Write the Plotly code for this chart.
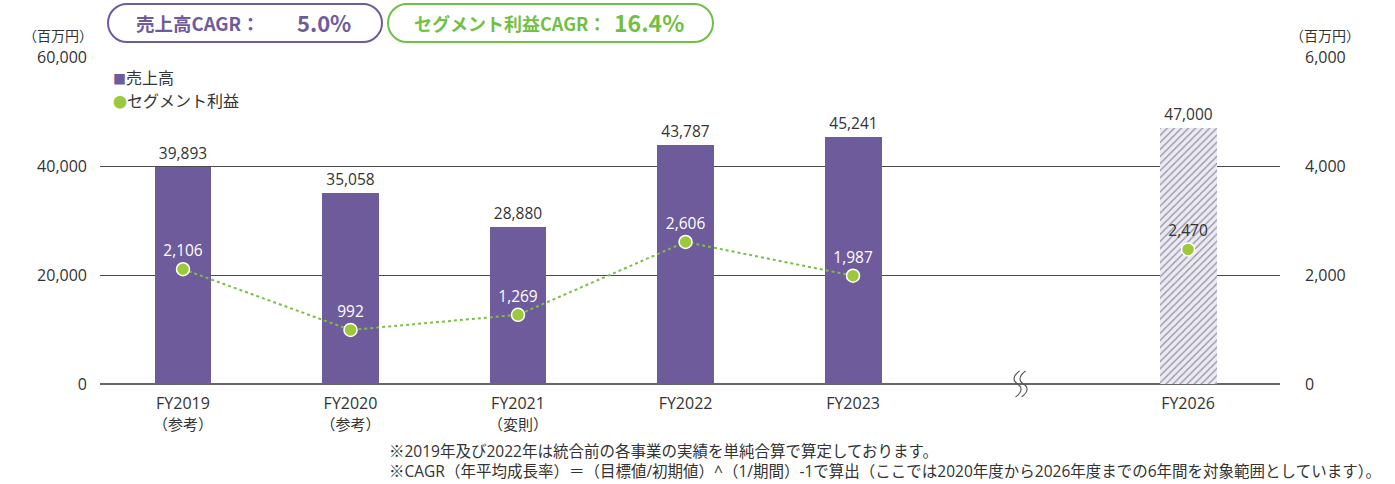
import plotly.graph_objects as go

# ---- data ----
years = ["FY2019", "FY2020", "FY2021", "FY2022", "FY2023", "", "FY2026"]
year_notes = ["（参考）", "（参考）", "（変則）", "", "", "", ""]
sales = [39893, 35058, 28880, 43787, 45241, None, 47000]
profit = [2106, 992, 1269, 2606, 1987, None, 2470]
sales_ticks = [0, 20000, 40000, 60000]
profit_ticks = [0, 2000, 4000, 6000]
footnotes = [
    "※2019年及び2022年は統合前の各事業の実績を単純合算で算定しております。",
    "※CAGR（年平均成長率）＝（目標値/初期値）^（1/期間）-1で算出（ここでは2020年度から2026年度までの6年間を対象範囲としています）。",
]
cagr_sales = "5.0%"
cagr_profit = "16.4%"

PURPLE = "#6E5B9C"
GREEN_M = "#9CC93B"
GREEN_L = "#7DBE48"
GREEN_T = "#72BF44"
TXT = "#333333"
FONT = "Noto Sans CJK JP"
NUMFONT = "Open Sans, Noto Sans CJK JP"

W, H = 1395, 484
L, R, T, B = 100, 1280, 57, 384

xs = list(range(len(years)))
forecast_idx = 6
break_idx = 5

ticktext = []
for y, n in zip(years, year_notes):
    if n:
        ticktext.append(f"{y}<br><span style='font-size:15px'>{n}</span>")
    else:
        ticktext.append(y)

fig = go.Figure()

bar_colors = [PURPLE if i != forecast_idx else "#ECEAF6" for i in xs]
bar_shapes = ["" if i != forecast_idx else "/" for i in xs]
fig.add_trace(go.Bar(
    x=xs, y=sales, width=0.34,
    marker=dict(color=bar_colors, line=dict(width=0),
                pattern=dict(shape=bar_shapes, fgcolor="#7566B2",
                             size=5, solidity=0.28, fillmode="overlay")),
    texttemplate="%{y:,}", textposition="outside",
    textfont=dict(size=15.5, color=TXT, family=NUMFONT),
    cliponaxis=False, showlegend=False, hoverinfo="skip",
))

label_colors = ["white" if i != forecast_idx else TXT for i in xs]
fig.add_trace(go.Scatter(
    x=xs, y=profit, yaxis="y2", mode="lines+markers+text",
    line=dict(color=GREEN_L, width=2, dash="dot"),
    marker=dict(size=13, color=GREEN_M, line=dict(color="white", width=1.5)),
    texttemplate="%{y:,}", textposition="top center",
    textfont=dict(size=15.5, color=label_colors, family=NUMFONT),
    connectgaps=False, cliponaxis=False, showlegend=False, hoverinfo="skip",
))

fig.update_layout(
    width=W, height=H,
    margin=dict(l=L, r=W - R, t=T, b=H - B, autoexpand=False),
    paper_bgcolor="white", plot_bgcolor="white",
    font=dict(family=FONT, size=13, color=TXT),
    bargap=0,
    xaxis=dict(range=[-0.4955, 6.549], tickvals=xs, ticktext=ticktext,
               showgrid=False, zeroline=False, showline=False, ticks="",
               automargin=False, ticklabelstandoff=8,
               tickfont=dict(size=16, color=TXT, family=NUMFONT), fixedrange=True),
    yaxis=dict(range=[0, 60000], tickvals=sales_ticks, tickformat=",",
               showgrid=True, gridcolor="#4a4a4a", gridwidth=1,
               zeroline=True, zerolinecolor="#666666", zerolinewidth=1.5,
               ticks="", ticklabelstandoff=12, automargin=False,
               tickfont=dict(size=16, color=TXT, family=NUMFONT), fixedrange=True),
    yaxis2=dict(range=[0, 6000], tickvals=profit_ticks, tickformat=",",
                overlaying="y", side="right", showgrid=False, zeroline=False,
                ticks="", ticklabelstandoff=24, automargin=False,
                tickfont=dict(size=16, color=TXT, family=NUMFONT), fixedrange=True),
)


def px(x):
    return (x - L) / (R - L)


def py(y):
    return (B - y) / (B - T)


def pill(x0, y0, x1, y1):
    r = (y1 - y0) / 2
    k = 0.55 * r
    pts = [
        f"M {px(x0 + r)},{py(y0)}",
        f"L {px(x1 - r)},{py(y0)}",
        f"C {px(x1 - r + k)},{py(y0)} {px(x1)},{py(y0 + r - k)} {px(x1)},{py(y0 + r)}",
        f"C {px(x1)},{py(y0 + r + k)} {px(x1 - r + k)},{py(y1)} {px(x1 - r)},{py(y1)}",
        f"L {px(x0 + r)},{py(y1)}",
        f"C {px(x0 + r - k)},{py(y1)} {px(x0)},{py(y1 - r + k)} {px(x0)},{py(y1 - r)}",
        f"C {px(x0)},{py(y0 + r - k)} {px(x0 + r - k)},{py(y0)} {px(x0 + r)},{py(y0)} Z",
    ]
    return " ".join(pts)


shapes = [
    dict(type="path", xref="paper", yref="paper", path=pill(108, 4, 382, 42),
         line=dict(color=PURPLE, width=2), fillcolor="white", layer="above"),
    dict(type="path", xref="paper", yref="paper", path=pill(388, 4, 713, 42),
         line=dict(color=GREEN_T, width=2), fillcolor="white", layer="above"),
]

# axis break marks (paper-referenced, so they are not clipped to the plot area)
xs_range = (-0.4955, 6.549)
bx_paper = (break_idx - xs_range[0]) / (xs_range[1] - xs_range[0])
for o in (-3, 3):
    shapes.append(dict(
        type="path", xref="paper", yref="paper", xsizemode="pixel", ysizemode="pixel",
        xanchor=bx_paper, yanchor=0,
        path=f"M {o+2},13 C {o-5},8 {o-5},3 {o},0 C {o+5},-3 {o+5},-8 {o-2},-13",
        line=dict(color="#555555", width=1.1), fillcolor="rgba(0,0,0,0)", layer="above"))

fig.update_layout(shapes=shapes)

ann = []
ann.append(dict(x=px(134), y=py(23), xref="paper", yref="paper", xanchor="left", yanchor="middle",
                text="<b>売上高CAGR：</b>", showarrow=False,
                font=dict(size=18.5, color=PURPLE, family=FONT)))
ann.append(dict(x=px(353), y=py(22), xref="paper", yref="paper", xanchor="right", yanchor="middle",
                text=f"<b>{cagr_sales}</b>", showarrow=False,
                font=dict(size=22, color=PURPLE, family=FONT)))
ann.append(dict(x=px(412), y=py(23), xref="paper", yref="paper", xanchor="left", yanchor="middle",
                text="<b>セグメント利益CAGR：</b>", showarrow=False,
                font=dict(size=18, color=GREEN_T, family=FONT)))
ann.append(dict(x=px(686), y=py(22), xref="paper", yref="paper", xanchor="right", yanchor="middle",
                text=f"<b>{cagr_profit}</b>", showarrow=False,
                font=dict(size=23, color=GREEN_T, family=FONT)))
ann.append(dict(x=px(95), y=py(35), xref="paper", yref="paper", xanchor="right", yanchor="middle",
                text="（百万円）", showarrow=False, font=dict(size=14, color=TXT, family=FONT)))
ann.append(dict(x=px(1288), y=py(35), xref="paper", yref="paper", xanchor="left", yanchor="middle",
                text="（百万円）", showarrow=False, font=dict(size=14, color=TXT, family=FONT)))
ann.append(dict(x=px(111), y=py(77), xref="paper", yref="paper", xanchor="left", yanchor="middle",
                text=f"<span style='color:{PURPLE};font-size:13px'>■</span>売上高", showarrow=False,
                font=dict(size=16, color=TXT, family=FONT)))
ann.append(dict(x=px(111), y=py(100), xref="paper", yref="paper", xanchor="left", yanchor="middle",
                text=f"<span style='color:{GREEN_M};font-size:14px'>●</span>セグメント利益", showarrow=False,
                font=dict(size=16, color=TXT, family=FONT)))
ann.append(dict(x=px(387), y=py(460.5), xref="paper", yref="paper",
                xanchor="left", yanchor="middle", align="left", text="<br>".join(footnotes),
                showarrow=False, font=dict(size=15.5, color=TXT, family=NUMFONT)))
fig.update_layout(annotations=ann)

fig.write_html("out.html", config={"displayModeBar": False},
               post_script="document.body.style.margin='0';")
